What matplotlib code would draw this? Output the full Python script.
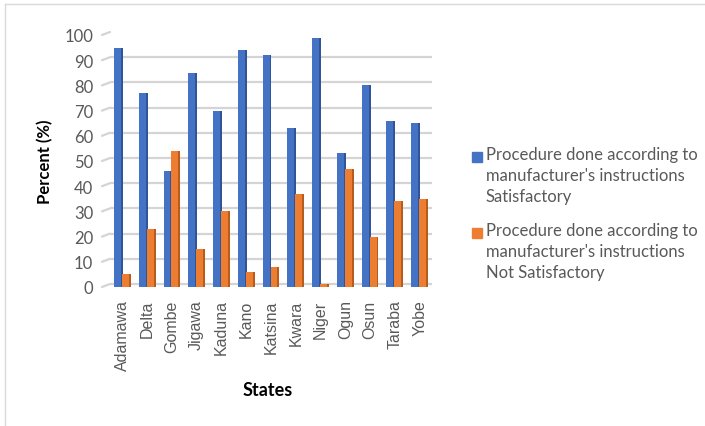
import numpy as np
import matplotlib.pyplot as plt
import matplotlib.transforms as mtransforms
from matplotlib.patches import Rectangle
from matplotlib.lines import Line2D

# states and percentage of procedures done according to instructions
states = ['Adamawa', 'Delta', 'Gombe', 'Jigawa', 'Kaduna', 'Kano', 'Katsina',
          'Kwara', 'Niger', 'Ogun', 'Osun', 'Taraba', 'Yobe']
satisfactory = [95, 77, 46, 85, 70, 94, 92, 63, 99, 53, 80, 66, 65]
not_satisfactory = [5, 23, 54, 15, 30, 6, 8, 37, 1, 47, 20, 34, 35]
yticks = list(range(0, 101, 10))

label_sat = "Procedure done according to\nmanufacturer's instructions\nSatisfactory"
label_not = "Procedure done according to\nmanufacturer's instructions\nNot Satisfactory"

blue = '#4472C4'
blue_dark = '#2F5597'
orange = '#ED7D31'
orange_dark = '#B85C1E'
grey_txt = '#595959'
grid_col = '#d4d4d4'

fig = plt.figure(figsize=(7.05, 4.27), dpi=100)
ax = fig.add_axes([110/705, 1-288/427, 322/705, 252/427])

x = np.arange(len(states))
w = 0.36
off = 0.16
side = 0.08

ax.set_xlim(-0.5, 12.5)
ax.set_ylim(0, 100)

# gridlines drawn a little higher, with a short diagonal on the left
grid_tr = mtransforms.offset_copy(ax.transData, fig=fig, x=0, y=3, units='dots')
for v in yticks:
    ax.plot([-0.5, 12.5], [v, v], color=grid_col, lw=1.6, transform=grid_tr,
            zorder=0, solid_capstyle='round')
    px, py = ax.transData.transform((-0.5, v))
    diag = Line2D([px - 8, px], [py, py + 3], color=grid_col, lw=1.6,
                  solid_capstyle='round', transform=mtransforms.IdentityTransform())
    diag.set_clip_on(False)
    ax.add_line(diag)

# satisfactory bars, with darker right face
ax.bar(x - off, satisfactory, w, color=blue, zorder=2)
ax.bar(x - off + w/2 - side/2, satisfactory, side, color=blue_dark, zorder=2)
# not satisfactory bars, slightly in front
ax.bar(x + off, not_satisfactory, w, color=orange, zorder=3)
ax.bar(x + off + w/2 - side/2, not_satisfactory, side, color=orange_dark, zorder=3)

ax.set_yticks(yticks)
ax.set_yticklabels([str(v) for v in yticks], family='Lato', fontsize=12, color=grey_txt)
ax.set_xticks(x)
ax.set_xticklabels(states, rotation=90, family='Liberation Sans', fontsize=11.5,
                   color=grey_txt)
ax.tick_params(axis='both', length=0)
ax.tick_params(axis='y', pad=12)
ax.tick_params(axis='x', pad=9)
for s in ax.spines.values():
    s.set_visible(False)

ax.set_ylabel('Percent (%)', family='Lato', fontweight='bold', fontsize=12, color='black')
ax.yaxis.set_label_coords(-0.175, 0.5)
fig.text(268/705, 1-391/427, 'States', family='Lato', fontweight='bold', fontsize=13,
         ha='center', va='center')

# legend
for ytop, col, lab in [(153, blue, label_sat), (229, orange, label_not)]:
    fig.patches.append(Rectangle((472/705, 1-(ytop+10)/427), 10/705, 10/427,
                                 transform=fig.transFigure, color=col))
    fig.text(486/705, 1-(ytop-6)/427, lab, family='Lato', fontsize=12, color=grey_txt,
             ha='left', va='top', linespacing=1.4)

# chart frame
fig.add_artist(Line2D([5/705, 5/705], [0, 1-5/427], color='#d9d9d9', lw=1,
                      transform=fig.transFigure))
fig.add_artist(Line2D([5/705, 1], [1-5/427, 1-5/427], color='#d9d9d9', lw=1,
                      transform=fig.transFigure))

plt.savefig('out.png', dpi=100)
